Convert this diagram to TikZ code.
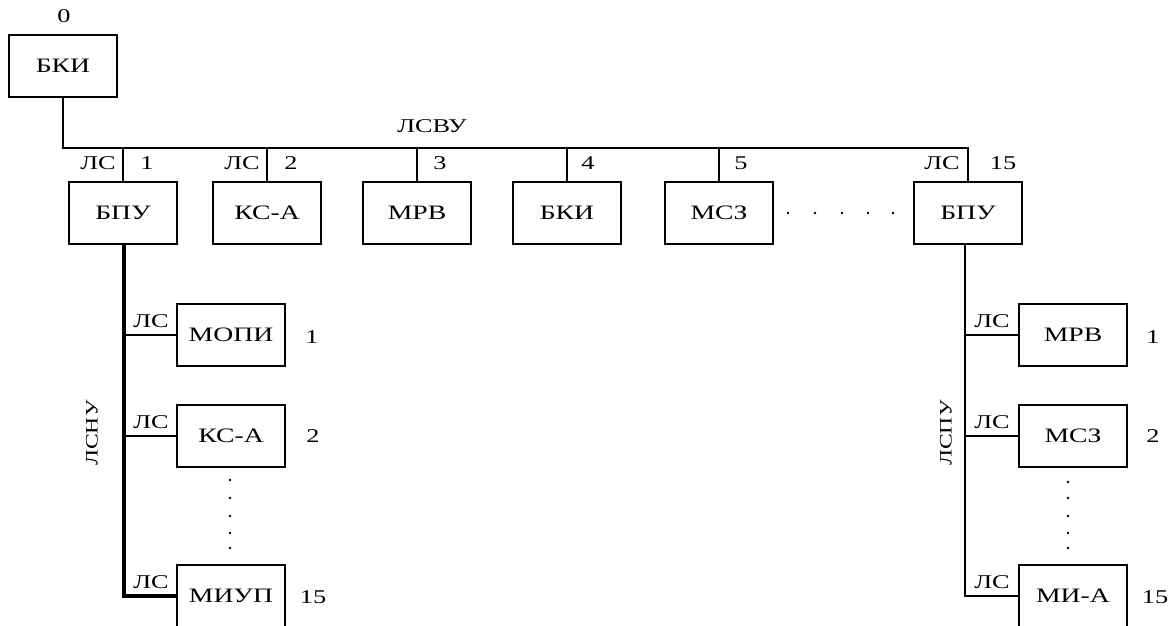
\documentclass[tikz,border=0pt]{standalone}
\usepackage{fontspec}
\setmainfont{Liberation Serif}[FakeStretch=1.35]
\begin{document}
\begin{tikzpicture}[x=1pt,y=-1pt,
  blk/.style={draw,line width=1.4pt,minimum width=108pt,minimum height=62pt,inner sep=0pt,font=\fontsize{20.5}{23}\selectfont},
  lbl/.style={inner sep=0pt,font=\fontsize{19.5}{22}\selectfont},
  vlbl/.style={inner sep=0pt,rotate=90,font=\fontsize{17.5}{20}\selectfont},
  wire/.style={line width=1.1pt},
  bold wire/.style={line width=3.2pt},
  dotm/.style={fill=black}]
\useasboundingbox (0,0) rectangle (1171,625);
\clip (0,0) rectangle (1171,625);
% top
\node[blk] (bki0) at (63,66) {БКИ};
\node[lbl] (n0) at (64,16) {0};
\node[blk] (b1) at (123,213) {БПУ};
\node[blk] (b2) at (267,213) {КС-А};
\node[blk] (b3) at (417,213) {МРВ};
\node[blk] (b4) at (567,213) {БКИ};
\node[blk] (b5) at (719,213) {МСЗ};
\node[blk] (b15) at (968,213) {БПУ};
\coordinate (busR) at (968,148);
\draw[wire] (bki0.south) |- (busR) -- (b15.north);
\foreach \b in {b1,b2,b3,b4,b5}{\draw[wire] (\b.north) -- (\b.north |- busR);}
\node[lbl] (lsvu) at (432,126) {ЛСВУ};
\node[lbl] (ls1) at (98,163) {ЛС};
\node[lbl] (t1) at (147,163) {1};
\node[lbl] (ls2) at (242,163) {ЛС};
\node[lbl] (t2) at (291,163) {2};
\node[lbl] (t3) at (440,163) {3};
\node[lbl] (t4) at (588,163) {4};
\node[lbl] (t5) at (741,163) {5};
\node[lbl] (ls15) at (942,163) {ЛС};
\node[lbl] (t15) at (1003,163) {15};
\foreach \x in {788,815,842,868,893}{\fill[dotm] (\x,213) circle (1.4);}
% left branch
\node[blk] (m1) at (231,335) {МОПИ};
\node[blk] (m2) at (231,436) {КС-А};
\node[blk] (m3) at (231,596) {МИУП};
\coordinate (lx) at (124,243);
\draw[bold wire] (lx) |- (m3.west);
\draw[wire] (m1.west) -- (m1.west -| lx);
\draw[line width=2.4pt] (m2.west) -- (m2.west -| lx);
\node[lbl] (lsa) at (151,321) {ЛС};
\node[lbl] (lsb) at (151,422) {ЛС};
\node[lbl] (lsc) at (151,582) {ЛС};
\node[lbl] (na) at (312,337) {1};
\node[lbl] (nb) at (313,436) {2};
\node[lbl] (nc) at (313,597) {15};
\foreach \y in {480,498,516,533,548}{\fill[dotm] (230,\y) circle (1.4);}
\node[vlbl] (lsnu) at (92,433) {ЛСНУ};
% right branch
\node[blk] (r1) at (1073,335) {МРВ};
\node[blk] (r2) at (1073,436) {МСЗ};
\node[blk] (r3) at (1073,596) {МИ-А};
\coordinate (rx) at (965,243);
\draw[wire] (rx) |- (r3.west);
\draw[line width=2.4pt] (r3.west) -- (r3.west -| rx);
\draw[wire] (r1.west) -- (r1.west -| rx);
\draw[wire] (r2.west) -- (r2.west -| rx);
\node[lbl] (lsd) at (992,321) {ЛС};
\node[lbl] (lse) at (992,422) {ЛС};
\node[lbl] (lsf) at (992,582) {ЛС};
\node[lbl] (nd) at (1153,337) {1};
\node[lbl] (ne) at (1153,436) {2};
\node[lbl] (nf) at (1155,597) {15};
\foreach \y in {482,498,516,533,548}{\fill[dotm] (1068,\y) circle (1.4);}
\node[vlbl] (lspu) at (946,433) {ЛСПУ};
\end{tikzpicture}
\end{document}
